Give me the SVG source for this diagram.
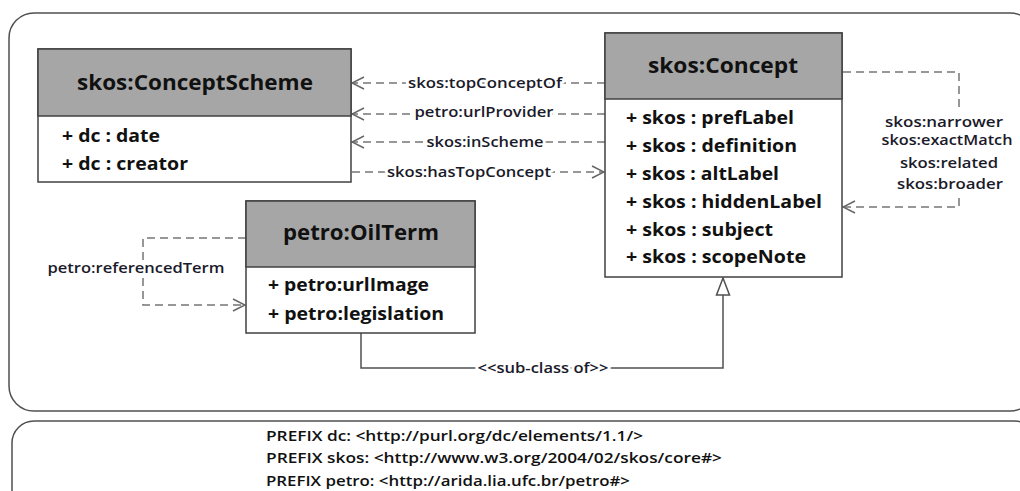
<svg xmlns="http://www.w3.org/2000/svg" width="1020" height="491" viewBox="0 0 1020 491">
<defs>
<style>
.frame{fill:none;stroke:#505050;stroke-width:1.5}
.box{fill:#ffffff;stroke:#404040;stroke-width:1.5}
.head{fill:#a6a6a6;stroke:#404040;stroke-width:1.5}
.title{font-family:"Open Sans","Liberation Sans",sans-serif;font-weight:bold;font-size:21px;fill:#111;text-anchor:middle}
.attr{font-family:"Open Sans","Liberation Sans",sans-serif;font-weight:bold;font-size:17px;fill:#111}
.dash{fill:none;stroke:#767676;stroke-width:1.5;stroke-dasharray:8 5}
.solid{fill:none;stroke:#505050;stroke-width:1.5}
.lbl{font-family:"Open Sans","Liberation Sans",sans-serif;font-size:14px;font-weight:600;fill:#1a1a2a;text-anchor:middle;paint-order:stroke;stroke:#ffffff;stroke-width:5px;stroke-linejoin:round}
.lbl2{font-family:"Open Sans","Liberation Sans",sans-serif;font-size:14px;font-weight:600;fill:#1a1a2a;text-anchor:middle}
.pfx{font-family:"Open Sans","Liberation Sans",sans-serif;font-size:15px;font-weight:600;fill:#111}
</style>
<marker id="open" markerUnits="userSpaceOnUse" markerWidth="14" markerHeight="14" viewBox="0 0 14 14" refX="13" refY="7" orient="auto">
<path d="M1,1 L13,7 L1,13" fill="none" stroke="#666666" stroke-width="1.5"/>
</marker>
<marker id="tri" markerUnits="userSpaceOnUse" markerWidth="20" markerHeight="16" viewBox="0 0 20 16" refX="18" refY="8" orient="auto">
<path d="M1,1.5 L18,8 L1,14.5 Z" fill="#ffffff" stroke="#505050" stroke-width="1.5"/>
</marker>
</defs>
<rect width="1020" height="491" fill="#ffffff"/>
<rect class="frame" x="9" y="13" width="1026" height="398" rx="25" ry="25"/>
<rect class="frame" x="12" y="421" width="1024" height="100" rx="22" ry="22"/>

<g id="connectors">
<path class="dash" d="M605,83 H352" marker-end="url(#open)"/>
<text class="lbl" x="485" y="88" textLength="154" lengthAdjust="spacingAndGlyphs">skos:topConceptOf</text>
<path class="dash" d="M605,114 H352" marker-end="url(#open)"/>
<text class="lbl" x="484" y="117" textLength="139" lengthAdjust="spacingAndGlyphs">petro:urlProvider</text>
<path class="dash" d="M605,142 H352" marker-end="url(#open)"/>
<text class="lbl" x="485" y="147" textLength="117" lengthAdjust="spacingAndGlyphs">skos:inScheme</text>
<path class="dash" d="M352,172 H604" marker-end="url(#open)"/>
<text class="lbl" x="469" y="177" textLength="164" lengthAdjust="spacingAndGlyphs">skos:hasTopConcept</text>

<path class="dash" d="M843,72 H959 V110"/>
<path class="dash" d="M959,198 V207 H843" marker-end="url(#open)"/>
<text class="lbl2" x="944" y="127" textLength="118" lengthAdjust="spacingAndGlyphs">skos:narrower</text>
<text class="lbl2" x="947" y="145" textLength="131" lengthAdjust="spacingAndGlyphs">skos:exactMatch</text>
<text class="lbl2" x="949" y="168" textLength="98" lengthAdjust="spacingAndGlyphs">skos:related</text>
<text class="lbl2" x="950" y="189" textLength="106" lengthAdjust="spacingAndGlyphs">skos:broader</text>

<path class="dash" d="M246,238 H143 V305 H245" marker-end="url(#open)"/>
<text class="lbl" x="136" y="273" textLength="177" lengthAdjust="spacingAndGlyphs">petro:referencedTerm</text>

<path class="solid" d="M361,333 V368 H723 V278" marker-end="url(#tri)"/>
<text class="lbl" x="543" y="373" textLength="131" lengthAdjust="spacingAndGlyphs">&lt;&lt;sub-class of&gt;&gt;</text>
</g>

<g id="conceptScheme">
<rect class="box" x="38" y="49" width="313" height="133"/>
<rect class="head" x="38" y="49" width="313" height="67"/>
<text class="title" x="195" y="90" textLength="236" lengthAdjust="spacingAndGlyphs">skos:ConceptScheme</text>
<text class="attr" x="62" y="142" textLength="98" lengthAdjust="spacingAndGlyphs">+ dc : date</text>
<text class="attr" x="62" y="170" textLength="126" lengthAdjust="spacingAndGlyphs">+ dc : creator</text>
</g>

<g id="concept">
<rect class="box" x="605" y="33" width="237" height="244"/>
<rect class="head" x="605" y="33" width="237" height="66"/>
<text class="title" x="723" y="73" textLength="150" lengthAdjust="spacingAndGlyphs">skos:Concept</text>
<text class="attr" x="626" y="124" textLength="168" lengthAdjust="spacingAndGlyphs">+ skos : prefLabel</text>
<text class="attr" x="626" y="152" textLength="171" lengthAdjust="spacingAndGlyphs">+ skos : definition</text>
<text class="attr" x="626" y="180" textLength="153" lengthAdjust="spacingAndGlyphs">+ skos : altLabel</text>
<text class="attr" x="626" y="208" textLength="196" lengthAdjust="spacingAndGlyphs">+ skos : hiddenLabel</text>
<text class="attr" x="626" y="236" textLength="147" lengthAdjust="spacingAndGlyphs">+ skos : subject</text>
<text class="attr" x="626" y="263" textLength="180" lengthAdjust="spacingAndGlyphs">+ skos : scopeNote</text>
</g>

<g id="oilTerm">
<rect class="box" x="246" y="201" width="229" height="132"/>
<rect class="head" x="246" y="201" width="229" height="66"/>
<text class="title" x="361" y="240" textLength="156" lengthAdjust="spacingAndGlyphs">petro:OilTerm</text>
<text class="attr" x="268" y="291" textLength="161" lengthAdjust="spacingAndGlyphs">+ petro:urlImage</text>
<text class="attr" x="268" y="320" textLength="176" lengthAdjust="spacingAndGlyphs">+ petro:legislation</text>
</g>

<g id="prefixes">
<text class="pfx" x="266" y="441" textLength="377" lengthAdjust="spacingAndGlyphs">PREFIX dc: &lt;http://purl.org/dc/elements/1.1/&gt;</text>
<text class="pfx" x="266" y="463" textLength="456" lengthAdjust="spacingAndGlyphs">PREFIX skos: &lt;http://www.w3.org/2004/02/skos/core#&gt;</text>
<text class="pfx" x="266" y="486" textLength="364" lengthAdjust="spacingAndGlyphs">PREFIX petro: &lt;http://arida.lia.ufc.br/petro#&gt;</text>
</g>
</svg>
